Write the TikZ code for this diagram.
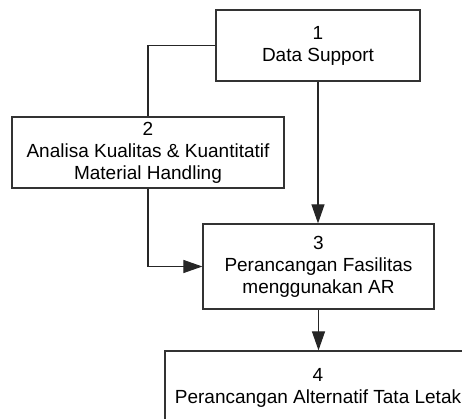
\documentclass[tikz,border=0pt]{standalone}
\usepackage{fontspec}
\setmainfont{Liberation Sans}
\usetikzlibrary{arrows.meta,positioning}

\tikzset{
  box/.style={draw=black!80,line width=1.2pt,fill=white,align=center,inner sep=0pt,
    font=\fontsize{19}{22}\selectfont},
  link/.style={draw=black!85,line width=1.1pt},
  arr/.style={link,-{Triangle[length=19pt,width=13pt]}}
}

\begin{document}
\begin{tikzpicture}[x=1pt,y=-1pt]
\useasboundingbox (0,0) rectangle (462,419);
\clip (0,0) rectangle (462,419);
\node[box,minimum width=204pt,minimum height=71pt] (data) at (318,45.5) {1\\Data Support};
\node[box,minimum width=272pt,minimum height=71pt] (analisa) at (148,152.5) {2\\Analisa Kualitas \& Kuantitatif\\Material Handling};
\node[box,minimum width=231pt,minimum height=85pt] (fasilitas) at (318.5,266.5) {3\\Perancangan Fasilitas\\menggunakan AR};
\node[box,minimum width=306pt,minimum height=74pt] (tataletak) at (318,388) {4\\Perancangan Alternatif Tata Letak};
% connectors
\draw[link] (data.west) -| (analisa.north);
\draw[arr] (analisa.south) |- (fasilitas.west);
\draw[arr] (data.south) -- (data.south |- fasilitas.north);
\draw[arr] (fasilitas.south) -- (fasilitas.south |- tataletak.north);
\end{tikzpicture}
\end{document}
